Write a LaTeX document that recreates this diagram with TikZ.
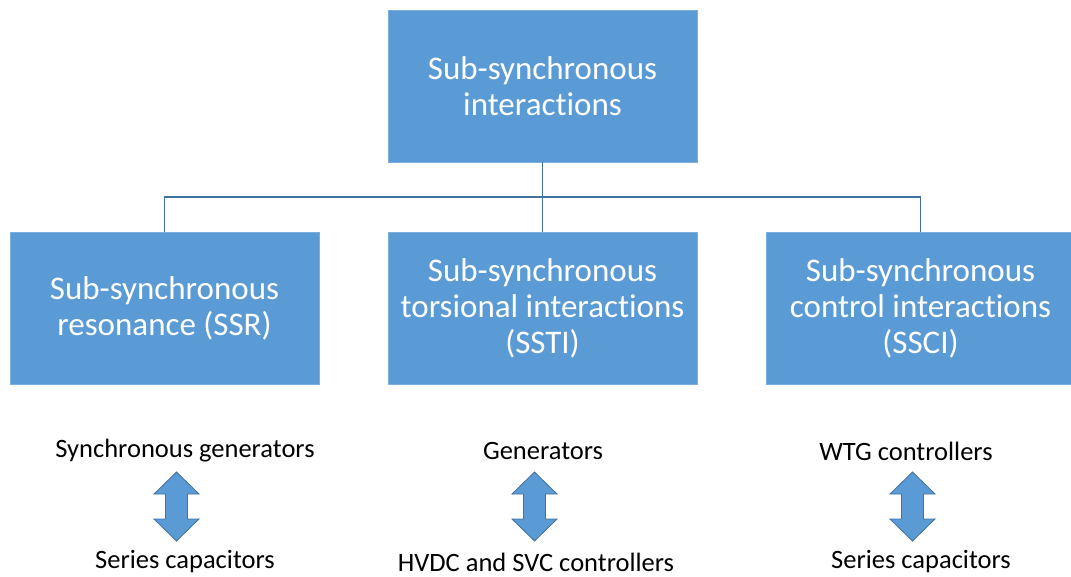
\documentclass[tikz,border=0pt]{standalone}
\usepackage{fontspec}
\setmainfont{Carlito}[Ligatures={NoCommon,NoRare,NoDiscretionary},RawFeature={-liga;-calt;-dlig}]
\definecolor{boxblue}{HTML}{5B9BD5}
\definecolor{edgeblue}{HTML}{41719C}
\begin{document}
\begin{tikzpicture}[x=1pt,y=-1pt,
  catbox/.style={fill=boxblue, draw=boxblue!80!white, line width=0.6pt,
    minimum width=309pt, minimum height=152pt, inner sep=0pt,
    text=white, align=center, font=\fontsize{33}{36}\selectfont},
  link/.style={draw=edgeblue, line width=1.6pt},
  note/.style={font=\fontsize{26.5}{30}\selectfont, text=black, inner sep=0pt},
  twoway/.style={fill=boxblue, draw=edgeblue, line width=0.8pt, line join=miter}]
\path[use as bounding box, clip] (0,0) rectangle (1071,576);
\fill[white] (0,0) rectangle (1071,576);

% category boxes
\node[catbox] (top) at (542.5,86) {Sub-synchronous\\interactions};
\node[catbox] (ssr) at (164.5,308) {Sub-synchronous\\resonance (SSR)};
\node[catbox] (ssti) at (542.5,308) {Sub-synchronous\\torsional interactions\\(SSTI)};
\node[catbox] (ssci) at (920.5,308) {Sub-synchronous\\control interactions\\(SSCI)};

% tree connectors
\coordinate (hub) at (542.5,197);
\draw[link] (top.south) -- (ssti.north);
\draw[link] (ssr.north) |- (hub) -| (ssci.north);

% interacting components
\node[note] (g1) at (185,451) {Synchronous generators};
\node[note] (c1) at (185,562) {Series capacitors};
\node[note] (g2) at (543,451) {Generators};
\node[note] (c2) at (536,562) {HVDC and SVC controllers};
\node[note] (g3) at (906,451) {WTG controllers};
\node[note] (c3) at (921,562) {Series capacitors};

% two-way block arrows between the components
\coordinate (a1) at (176.5,506.5);
\coordinate (a2) at (534.5,506.5);
\coordinate (a3) at (912.5,506.5);
\foreach \c in {a1,a2,a3}{
  \draw[twoway, shift={(\c)}]
    (0,-34.5) -- (22.5,-12.5) -- (11,-12.5) -- (11,12.5) -- (22.5,12.5)
    -- (0,34.5) -- (-22.5,12.5) -- (-11,12.5) -- (-11,-12.5) -- (-22.5,-12.5) -- cycle;
}
\end{tikzpicture}
\end{document}
